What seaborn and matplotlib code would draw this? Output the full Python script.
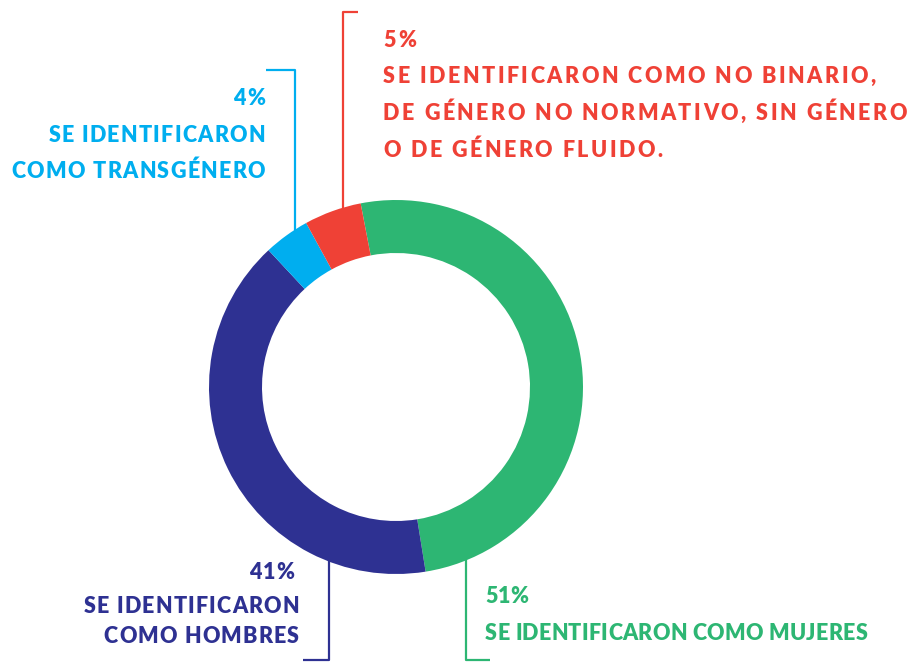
import numpy as np
import pandas as pd
import matplotlib.pyplot as plt
import seaborn as sns

# data
groups = ["Mujeres", "Hombres", "Transgénero", "No binario"]
percents = [51, 41, 4, 5]
colors = ["#2DB673", "#2E3192", "#00AEEF", "#EF4136"]
pct_labels = ["51%", "41%", "4%", "5%"]
desc_lines = [
    ["SE IDENTIFICARON COMO MUJERES"],
    ["SE IDENTIFICARON", "COMO HOMBRES"],
    ["SE IDENTIFICARON", "COMO TRANSGÉNERO"],
    ["SE IDENTIFICARON COMO NO BINARIO,",
     "DE GÉNERO NO NORMATIVO, SIN GÉNERO",
     "O DE GÉNERO FLUIDO."],
]

W, H = 912, 662
CX, CY = 396, H - 387
R_OUT, RING = 187, 53

sns.set_theme(style="white")
plt.rcParams['font.family'] = ['Lato', 'DejaVu Sans']

fig = plt.figure(figsize=(W / 100, H / 100), dpi=100)
ax = fig.add_axes([0, 0, 1, 1])

df = pd.DataFrame({"group": groups, "pct": percents, "color": colors})
ax.pie(df["pct"], colors=df["color"], startangle=100.9, counterclock=False,
       radius=R_OUT, center=(CX, CY),
       wedgeprops=dict(width=RING, linewidth=0))
ax.set_xlim(0, W)
ax.set_ylim(0, H)
ax.set_aspect('equal')
ax.axis('off')

fig.canvas.draw()
renderer = fig.canvas.get_renderer()
_cache = {}
WEIGHT = 'heavy'


def char_width(ch, size):
    key = (ch, size)
    if key not in _cache:
        t1 = ax.text(0, 0, "|" + ch + "|", fontsize=size, weight=WEIGHT)
        t2 = ax.text(0, 0, "||", fontsize=size, weight=WEIGHT)
        _cache[key] = t1.get_window_extent(renderer).width - t2.get_window_extent(renderer).width
        t1.remove()
        t2.remove()
    return _cache[key]


def tracked_text(x, y, s, color, size, track, ha='left'):
    # matplotlib has no letter spacing, so place the characters one by one
    widths = [char_width(c, size) for c in s]
    total = sum(widths) + track * (len(s) - 1)
    x0 = x - total if ha == 'right' else x
    for c, w in zip(s, widths):
        ax.text(x0, H - y, c, fontsize=size, weight=WEIGHT, color=color,
                ha='left', va='baseline')
        x0 += w + track


def ring_y(x, sign):
    # y (image pixels) where a vertical line at x meets the outer edge
    return 387 + sign * (np.sqrt(R_OUT ** 2 - (x - CX) ** 2) - 6)


def leader(x, y_end, x_tick, color, sign):
    y0 = ring_y(x, sign)
    ax.plot([x, x, x_tick], [H - y0, H - y_end, H - y_end], color=color,
            lw=1.6, zorder=0.5, solid_capstyle='butt')


FS = 15.5

# mujeres
leader(466, 660, 490, colors[0], 1)
tracked_text(485, 603, pct_labels[0], colors[0], FS, 0.3)
tracked_text(485, 640, desc_lines[0][0], colors[0], FS, 0.3)

# hombres
leader(329, 660, 303, colors[1], 1)
tracked_text(294, 579, pct_labels[1], colors[1], FS, 1.2, ha='right')
for i, line in enumerate(desc_lines[1]):
    tracked_text(299, 613 + 30 * i, line, colors[1], FS, 1.2, ha='right')

# transgenero
leader(295, 70, 266, colors[2], -1)
tracked_text(265, 105, pct_labels[2], colors[2], FS, 1.3, ha='right')
for i, line in enumerate(desc_lines[2]):
    tracked_text(265, 142 + 36 * i, line, colors[2], FS, 1.3, ha='right')

# no binario
leader(343, 12, 358, colors[3], -1)
tracked_text(383, 47, pct_labels[3], colors[3], FS, 2.5)
for i, line in enumerate(desc_lines[3]):
    tracked_text(383, 83 + 37 * i, line, colors[3], FS, 2.5)

fig.savefig("out.png", dpi=100)
